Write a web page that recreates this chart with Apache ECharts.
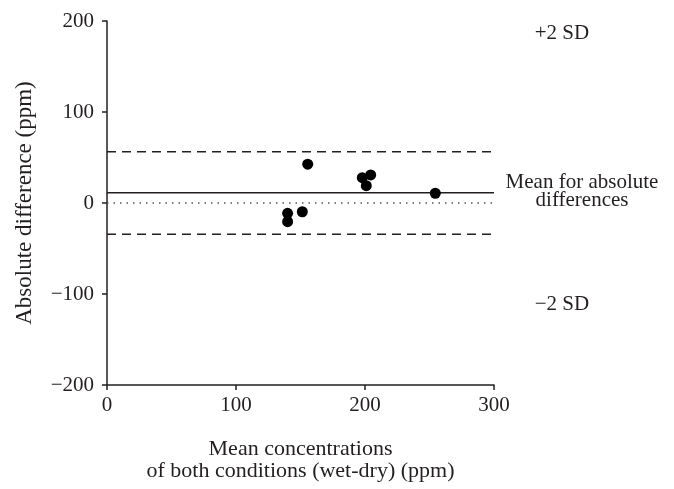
<!DOCTYPE html>
<html>
<head>
<meta charset="utf-8">
<script src="https://cdn.jsdelivr.net/npm/echarts@6/dist/echarts.min.js"></script>
<style>
  html, body { margin: 0; padding: 0; background: #fff; }
  #chart { width: 674px; height: 489px; }
</style>
</head>
<body>
<div id="chart"></div>
<script>
// mean of both conditions (x) vs absolute difference (y), ppm
var meanConc = [155.6, 197.9, 204.4, 201, 254.5, 140, 140, 151.4];
var absDiff = [42.6, 27.8, 30.8, 19, 10.7, -11.3, -20.5, -9.6];

// reference lines
var lineRange = [0, 300];
var upperSD = 56.4;
var meanDiff = 11.3;
var lowerSD = -34.4;
var zeroLine = 0;

var font = "Liberation Serif";
var ink = "#231f20";

var points = meanConc.map(function (x, i) {
  return [x, absDiff[i]];
});

function hLine(v) {
  return lineRange.map(function (x) {
    return [x, v];
  });
}

function refSeries(v, type, width, color) {
  return {
    type: "line",
    data: hLine(v),
    symbol: "none",
    silent: true,
    z: 1,
    lineStyle: { color: color, width: width, type: type },
  };
}

function note(text, x, y) {
  return {
    type: "text",
    x: x,
    y: y,
    style: {
      text: text,
      font: "21px " + font,
      fill: ink,
      align: "center",
      verticalAlign: "middle",
      lineHeight: 18,
    },
  };
}

var myChart = echarts.init(document.getElementById("chart"));
myChart.setOption({
  animation: false,
  backgroundColor: "#fff",
  grid: { left: 107, right: 180, top: 21, bottom: 104 },
  xAxis: {
    type: "value",
    min: 0,
    max: 300,
    interval: 100,
    name: "Mean concentrations\nof both conditions (wet-dry) (ppm)",
    nameLocation: "middle",
    nameGap: 53,
    nameTextStyle: { fontFamily: font, fontSize: 22, color: ink, lineHeight: 22 },
    axisLine: { onZero: false, lineStyle: { color: ink, width: 1.5 } },
    axisTick: { inside: false, length: 5, lineStyle: { color: ink, width: 1.5 } },
    axisLabel: { fontFamily: font, fontSize: 21, color: ink, margin: 10 },
    splitLine: { show: false },
  },
  yAxis: {
    type: "value",
    min: -200,
    max: 200,
    interval: 100,
    name: "Absolute difference (ppm)",
    nameLocation: "middle",
    nameGap: 71,
    nameTextStyle: { fontFamily: font, fontSize: 23, color: ink },
    axisLine: { show: true, onZero: false, lineStyle: { color: ink, width: 1.5 } },
    axisTick: { show: true, inside: false, length: 5, lineStyle: { color: ink, width: 1.5 } },
    axisLabel: {
      fontFamily: font,
      fontSize: 21,
      color: ink,
      margin: 13,
      formatter: function (v) {
        return v < 0 ? "\u2212" + Math.abs(v) : String(v);
      },
    },
    splitLine: { show: false },
  },
  graphic: [
    note("+2 SD", 562, 33),
    note("Mean for absolute\ndifferences", 582, 191),
    note("\u22122 SD", 562, 304),
  ],
  series: [
    refSeries(upperSD, [9, 6], 1.5, ink),
    refSeries(meanDiff, "solid", 1.5, ink),
    refSeries(zeroLine, [1.5, 5], 1.5, "#555"),
    refSeries(lowerSD, [9, 6], 1.5, ink),
    {
      type: "scatter",
      data: points,
      symbolSize: 11,
      z: 3,
      itemStyle: { color: "#000", opacity: 1 },
    },
  ],
});
window.onresize = function () {
  myChart.resize();
};
</script>
</body>
</html>
